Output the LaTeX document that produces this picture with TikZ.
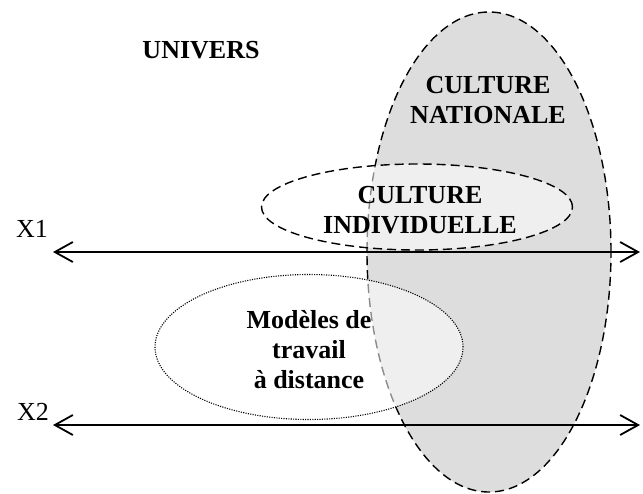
\documentclass[tikz,border=0pt]{standalone}
\usepackage{fontspec}
\setmainfont{Liberation Serif}
\usetikzlibrary{shapes.geometric,arrows.meta}
\definecolor{gris}{gray}{0.865}

\begin{document}
\begin{tikzpicture}[x=1pt,y=-1pt,
		zone/.style={ellipse,inner sep=0pt,line width=1.4pt},
		lbl/.style={font=\fontsize{26}{30}\selectfont\bfseries,align=center},
		axe/.style={line width=1.8pt,{Straight Barb[length=18pt,width=20pt]}-{Straight Barb[length=18pt,width=20pt]}}]
	\useasboundingbox (0,0) rectangle (643,493);
	% ensembles
	\node[zone,fill=gris,draw,dash pattern=on 9pt off 5pt,minimum width=244pt,minimum height=480pt] (nat) at (489,252) {};
	\node[zone,fill=white,fill opacity=0.55,draw,dash pattern=on 9pt off 5pt,minimum width=311pt,minimum height=86pt] (ind) at (417,207) {};
	\node[zone,fill=white,fill opacity=0.55,draw,line width=1.1pt,dash pattern=on 1.1pt off 1.3pt,minimum width=308pt,minimum height=145pt] (mod) at (309,347) {};
	% textes
	\node[lbl] (univ) at (201,50) {UNIVERS};
	\node[lbl] (tnat) at (488,100) {CULTURE\\NATIONALE};
	\node[lbl] (tind) at (420,210) {CULTURE\\INDIVIDUELLE};
	\node[lbl] (tmod) at (309,350) {Modèles de\\travail\\à distance};
	\node[font=\fontsize{26}{30}\selectfont] (x1) at (32,229) {X1};
	\node[font=\fontsize{26}{30}\selectfont] (x2) at (33,412) {X2};
	% axes
	\coordinate (g1) at (53,252);
	\coordinate (d1) at (640,252);
	\coordinate (g2) at (53,425);
	\coordinate (d2) at (640,425);
	\draw[axe] (g1) -- (d1);
	\draw[axe] (g2) -- (d2);
\end{tikzpicture}
\end{document}
